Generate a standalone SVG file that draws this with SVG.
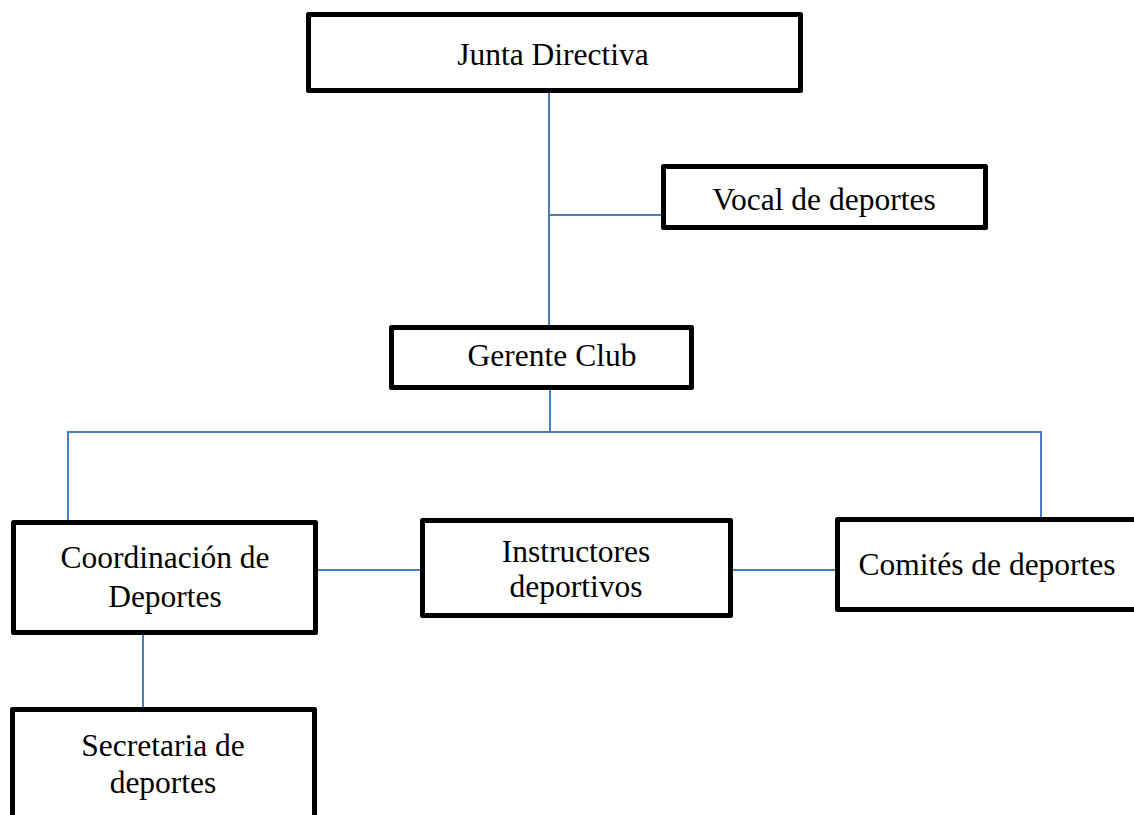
<svg xmlns="http://www.w3.org/2000/svg" width="1134" height="815" viewBox="0 0 1134 815">
<style>
.box{fill:#ffffff;stroke:#000000;stroke-width:5;stroke-linejoin:round}
.lbl{font-family:"Liberation Serif","Times New Roman",serif;font-size:31.5px;fill:#000000;text-anchor:middle}
.con{stroke:#4A7EBB;stroke-width:2;fill:none}
</style>
<rect width="1134" height="815" fill="#ffffff"/>
<g id="connectors">
<line class="con" x1="549" y1="93" x2="549" y2="325"/>
<line class="con" x1="549" y1="215" x2="661" y2="215"/>
<line class="con" x1="550" y1="390" x2="550" y2="432"/>
<line class="con" x1="67" y1="432" x2="1042" y2="432"/>
<line class="con" x1="68" y1="431" x2="68" y2="520"/>
<line class="con" x1="1041" y1="431" x2="1041" y2="517"/>
<line class="con" x1="318" y1="570" x2="420" y2="570"/>
<line class="con" x1="733" y1="570" x2="835" y2="570"/>
<line class="con" x1="143" y1="635" x2="143" y2="707"/>
</g>
<g id="junta">
<rect class="box" x="308.5" y="14.5" width="492" height="76"/>
<text class="lbl" x="553" y="65">Junta Directiva</text>
</g>
<g id="vocal">
<rect class="box" x="663.5" y="166.5" width="322" height="61"/>
<text class="lbl" x="824" y="210">Vocal de deportes</text>
</g>
<g id="gerente">
<rect class="box" x="391.5" y="327.5" width="300" height="60"/>
<text class="lbl" x="552" y="366">Gerente Club</text>
</g>
<g id="coordinacion">
<rect class="box" x="13.5" y="522.5" width="302" height="110"/>
<text class="lbl" x="165" y="568">Coordinación de</text>
<text class="lbl" x="165" y="607">Deportes</text>
</g>
<g id="instructores">
<rect class="box" x="422.5" y="520.5" width="308" height="95"/>
<text class="lbl" x="576" y="562">Instructores</text>
<text class="lbl" x="576" y="597">deportivos</text>
</g>
<g id="comites">
<rect class="box" x="837.5" y="519.5" width="310" height="90"/>
<text class="lbl" x="987" y="575">Comités de deportes</text>
</g>
<g id="secretaria">
<rect class="box" x="12.5" y="709.5" width="302" height="120"/>
<text class="lbl" x="163" y="756">Secretaria de</text>
<text class="lbl" x="163" y="793">deportes</text>
</g>
</svg>
